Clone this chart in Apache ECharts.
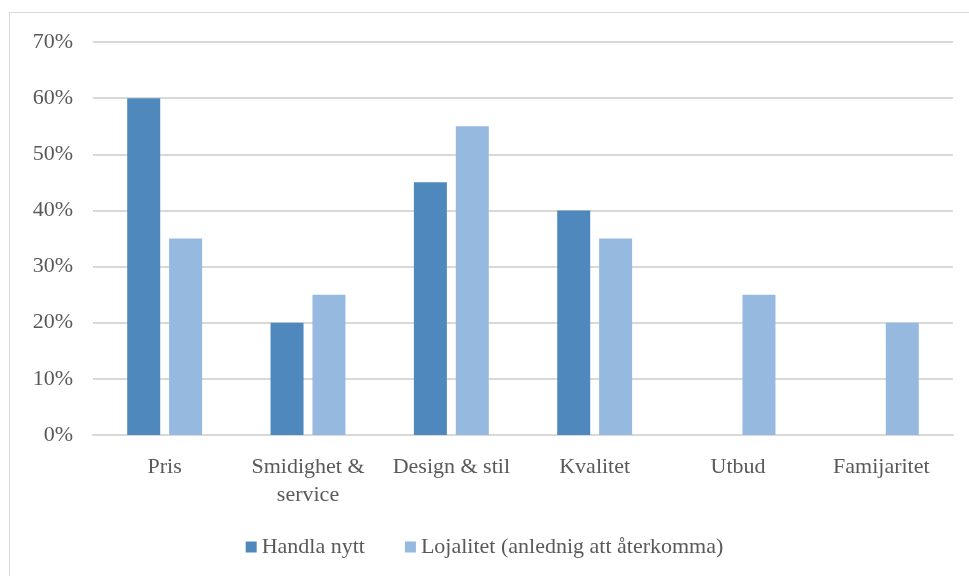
<!DOCTYPE html>
<html><head><meta charset="utf-8">
<script src="https://cdn.jsdelivr.net/npm/echarts@6/dist/echarts.min.js"></script>
<style>html,body{margin:0;padding:0;background:#fff}#c{width:969px;height:576px}
#frame{position:absolute;left:9px;top:12px;width:990px;height:600px;border:1px solid #D9D9D9;box-sizing:border-box;pointer-events:none}</style>
</head><body><div id="c"></div><div id="frame"></div>
<script>
const categories = ['Pris', 'Smidighet &\nservice', 'Design & stil', 'Kvalitet', 'Utbud', 'Famijaritet'];
const handlaNytt = [60, 20, 45, 40, 0, 0];
const lojalitet = [35, 25, 55, 35, 25, 20];
const yTicks = [0, 10, 20, 30, 40, 50, 60, 70];

const font = 'Liberation Serif, Times New Roman, serif';
const chart = echarts.init(document.getElementById('c'));
chart.setOption({
  animation: false,
  grid: { left: 93, right: 16, top: 42, bottom: 141 },
  legend: {
    bottom: 13, left: 'center', itemWidth: 11, itemHeight: 11, itemGap: 40,
    icon: 'rect',
    textStyle: { fontFamily: font, fontSize: 22, color: '#595959', padding: [0, 0, 0, 0] },
    data: ['Handla nytt', 'Lojalitet (anlednig att återkomma)']
  },
  xAxis: {
    type: 'category', data: categories,
    axisLine: { lineStyle: { color: '#D9D9D9', width: 2 } },
    axisTick: { show: false },
    axisLabel: { fontFamily: font, fontSize: 22, color: '#595959', margin: 18, lineHeight: 28, interval: 0 }
  },
  yAxis: {
    type: 'value', min: yTicks[0], max: yTicks[yTicks.length - 1], interval: 10,
    axisLine: { show: false }, axisTick: { show: false },
    splitLine: { lineStyle: { color: '#D9D9D9', width: 2 } },
    axisLabel: { formatter: '{value}%', fontFamily: font, fontSize: 22, color: '#595959', margin: 20 }
  },
  series: [
    { name: 'Handla nytt', type: 'bar', data: handlaNytt, barWidth: 33, barGap: '27%', itemStyle: { color: '#4F88BD' } },
    { name: 'Lojalitet (anlednig att återkomma)', type: 'bar', data: lojalitet, barWidth: 33, itemStyle: { color: '#96B9E0' } }
  ]
});
</script></body></html>
